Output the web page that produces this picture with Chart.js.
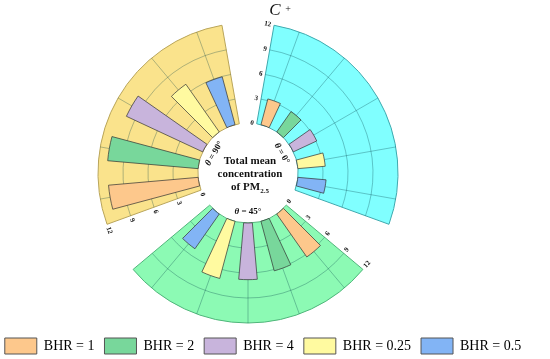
<!DOCTYPE html>
<html>
<head>
<meta charset="utf-8">
<script src="https://cdn.jsdelivr.net/npm/chart.js@4.4.1/dist/chart.umd.min.js"></script>
<style>
  html, body { margin: 0; padding: 0; background: #fff; }
  #wrap { width: 550px; height: 359px; }
</style>
</head>
<body>
<div id="wrap"><canvas id="polarChart"></canvas></div>
<script>
// categories
const bhrLabels = ["BHR = 1", "BHR = 2", "BHR = 4", "BHR = 0.25", "BHR = 0.5"]
const thetaLabels = ["θ = 0°", "θ = 45°", "θ = 90°"]
// total mean concentration per wind angle, one value per BHR
const theta0 = [3.2, 3.0, 3.1, 3.3, 3.4]
const theta45 = [6.3, 6.15, 6.8, 7.1, 5.1]
const theta90 = [10.8, 10.9, 10.1, 7.0, 5.95]
const rTicks = [0, 3, 6, 9, 12]

const barColors = ["#FDC88C", "#78D79B", "#C8B4DC", "#FFFAA0", "#82B4F5"]
const sectorColors = ["#80FFFF", "#8CFAB4", "#FAE38C"]
const sectorBorders = ["#3FA9AE", "#4FB57A", "#B9A55A"]

// bars: a 5 deg lead-in slot, then 10 deg slots (bar, gap, bar, ...), 12 slots per sector
const series = [theta0, theta45, theta90]
const barData = new Array(36).fill(null)
const barFill = new Array(36).fill("rgba(0,0,0,0)")
series.forEach((vals, k) => {
  vals.forEach((v, j) => {
    barData[1 + 12 * k + 2 * j] = v
    barFill[1 + 12 * k + 2 * j] = barColors[j]
  })
})

// background sectors: 100 deg wedge + 20 deg gap
const sectorData = [12, null, 12, null, 12, null]
const sectorAngles = [100, 20, 100, 20, 100, 20]

const polarDecor = {
  id: "polarDecor",
  afterDatasetsUpdate(chart) {
    const r0 = chart.scales.r.getDistanceFromCenterForValue(0)
    chart.data.datasets.forEach((ds, i) => {
      chart.getDatasetMeta(i).data.forEach((arc, j) => {
        if (ds.data[j] !== null) arc.innerRadius = r0
      })
    })
  },
  afterDatasetDraw(chart, args) {
    if (args.index !== 1) return
    const s = chart.scales.r
    const ctx = chart.ctx
    const cx = s.xCenter, cy = s.yCenter
    const r0 = s.getDistanceFromCenterForValue(0)
    const r12 = s.getDistanceFromCenterForValue(12)
    ctx.save()
    ctx.strokeStyle = "rgba(0,60,70,0.3)"
    ctx.lineWidth = 1
    chart.getDatasetMeta(1).data.forEach((arc, j) => {
      if (sectorData[j] === null) return
      ;[3, 6, 9].forEach((v) => {
        ctx.beginPath()
        ctx.arc(cx, cy, s.getDistanceFromCenterForValue(v), arc.startAngle, arc.endAngle)
        ctx.stroke()
      })
    })
    chart.getDatasetMeta(0).data.forEach((arc, j) => {
      if (barData[j] === null) return
      const a = (arc.startAngle + arc.endAngle) / 2
      ctx.beginPath()
      ctx.moveTo(cx + r0 * Math.cos(a), cy + r0 * Math.sin(a))
      ctx.lineTo(cx + r12 * Math.cos(a), cy + r12 * Math.sin(a))
      ctx.stroke()
    })
    ctx.restore()
  },
  afterDraw(chart) {
    const s = chart.scales.r
    const ctx = chart.ctx
    const cx = s.xCenter, cy = s.yCenter
    const r0 = s.getDistanceFromCenterForValue(0)
    const serif = '"Liberation Serif", "Times New Roman", serif'
    ctx.save()
    ctx.fillStyle = "#111"
    ctx.textBaseline = "middle"

    let k = 0
    chart.getDatasetMeta(1).data.forEach((arc, j) => {
      if (sectorData[j] === null) return
      // tick labels along the leading edge
      const a = arc.startAngle
      const nx = Math.sin(a), ny = -Math.cos(a)
      let rot = Math.atan2(Math.sin(a + Math.PI / 2), Math.cos(a + Math.PI / 2))
      let align = "right"
      if (rot > Math.PI / 2) { rot -= Math.PI; align = "left" }
      else if (rot <= -Math.PI / 2) { rot += Math.PI; align = "left" }
      ctx.font = "bold 7px " + serif
      rTicks.forEach((v) => {
        const d = s.getDistanceFromCenterForValue(v)
        ctx.save()
        ctx.translate(cx + d * Math.cos(a) + 3 * nx, cy + d * Math.sin(a) + 3 * ny)
        ctx.rotate(rot)
        ctx.textAlign = align
        ctx.fillText(String(v), 0, 0)
        ctx.restore()
      })

      // theta label inside the hole
      const m = (arc.startAngle + arc.endAngle) / 2
      let mr = Math.atan2(Math.sin(m + Math.PI / 2), Math.cos(m + Math.PI / 2))
      if (mr > Math.PI / 2) mr -= Math.PI
      else if (mr <= -Math.PI / 2) mr += Math.PI
      const lbl = thetaLabels[k]
      const sym = lbl.slice(0, 1), rest = lbl.slice(1)
      ctx.font = "italic bold 9px " + serif
      const w1 = ctx.measureText(sym).width
      ctx.font = "bold 9px " + serif
      const w2 = ctx.measureText(rest).width
      ctx.save()
      ctx.translate(cx + (r0 - 11) * Math.cos(m), cy + (r0 - 11) * Math.sin(m))
      ctx.rotate(mr)
      ctx.textAlign = "left"
      ctx.font = "italic bold 9px " + serif
      ctx.fillText(sym, -(w1 + w2) / 2, 0)
      ctx.font = "bold 9px " + serif
      ctx.fillText(rest, -(w1 + w2) / 2 + w1, 0)
      ctx.restore()
      k++
    })

    // centre text
    ctx.textAlign = "center"
    ctx.font = "bold 11px " + serif
    ctx.fillText("Total mean", cx + 2, cy - 12)
    ctx.fillText("concentration", cx + 2, cy + 1)
    const wPM = ctx.measureText("of PM").width
    ctx.font = "bold 7px " + serif
    const wSub = ctx.measureText("2.5").width
    ctx.textAlign = "left"
    const x0 = cx + 2 - (wPM + wSub) / 2
    ctx.font = "bold 11px " + serif
    ctx.fillText("of PM", x0, cy + 14)
    ctx.font = "bold 7px " + serif
    ctx.fillText("2.5", x0 + wPM, cy + 18)

    // panel title
    ctx.textAlign = "center"
    ctx.font = "italic 17px " + serif
    ctx.fillText("C", 275, 11)
    ctx.font = "10px " + serif
    ctx.fillText("+", 288, 9)
    ctx.restore()
  }
}

new Chart(document.getElementById("polarChart"), {
  type: "polarArea",
  data: {
    datasets: [
      {
        label: "bars",
        data: barData,
        backgroundColor: barFill,
        borderColor: "rgba(50,50,50,0.7)",
        borderWidth: (ctx) => (barData[ctx.dataIndex] === null ? 0 : 1),
        angle: (ctx) => (ctx.dataIndex === 0 ? 5 : 10),
        order: 1,
      },
      {
        label: "sectors",
        data: sectorData,
        backgroundColor: (ctx) => sectorColors[Math.floor(ctx.dataIndex / 2)],
        borderColor: (ctx) => sectorBorders[Math.floor(ctx.dataIndex / 2)],
        borderWidth: (ctx) => (sectorData[ctx.dataIndex] === null ? 0 : 1),
        angle: (ctx) => sectorAngles[ctx.dataIndex],
        order: 2,
      },
    ],
  },
  options: {
    responsive: true,
    maintainAspectRatio: false,
    animation: false,
    events: [],
    layout: { padding: { left: -12, right: 12, top: 0, bottom: -5 } },
    scales: {
      r: {
        min: -6,
        max: 12,
        startAngle: 10,
        ticks: { display: false },
        grid: { display: false },
        angleLines: { display: false },
        pointLabels: { display: false },
        afterFit: (s) => {
          s.xCenter = 248
          s.yCenter = 173
          s.drawingArea = 150
        },
      },
    },
    plugins: {
      tooltip: { enabled: false },
      legend: {
        position: "bottom",
        onClick: () => {},
        labels: {
          boxWidth: 32,
          boxHeight: 16,
          padding: 10,
          color: "#111",
          font: { family: '"Liberation Serif", "Times New Roman", serif', size: 14 },
          generateLabels: () =>
            bhrLabels.map((t, i) => ({
              text: t,
              fillStyle: barColors[i],
              strokeStyle: "#555",
              lineWidth: 1,
              hidden: false,
              index: i,
            })),
        },
      },
    },
  },
  plugins: [polarDecor],
})
</script>
</body>
</html>
